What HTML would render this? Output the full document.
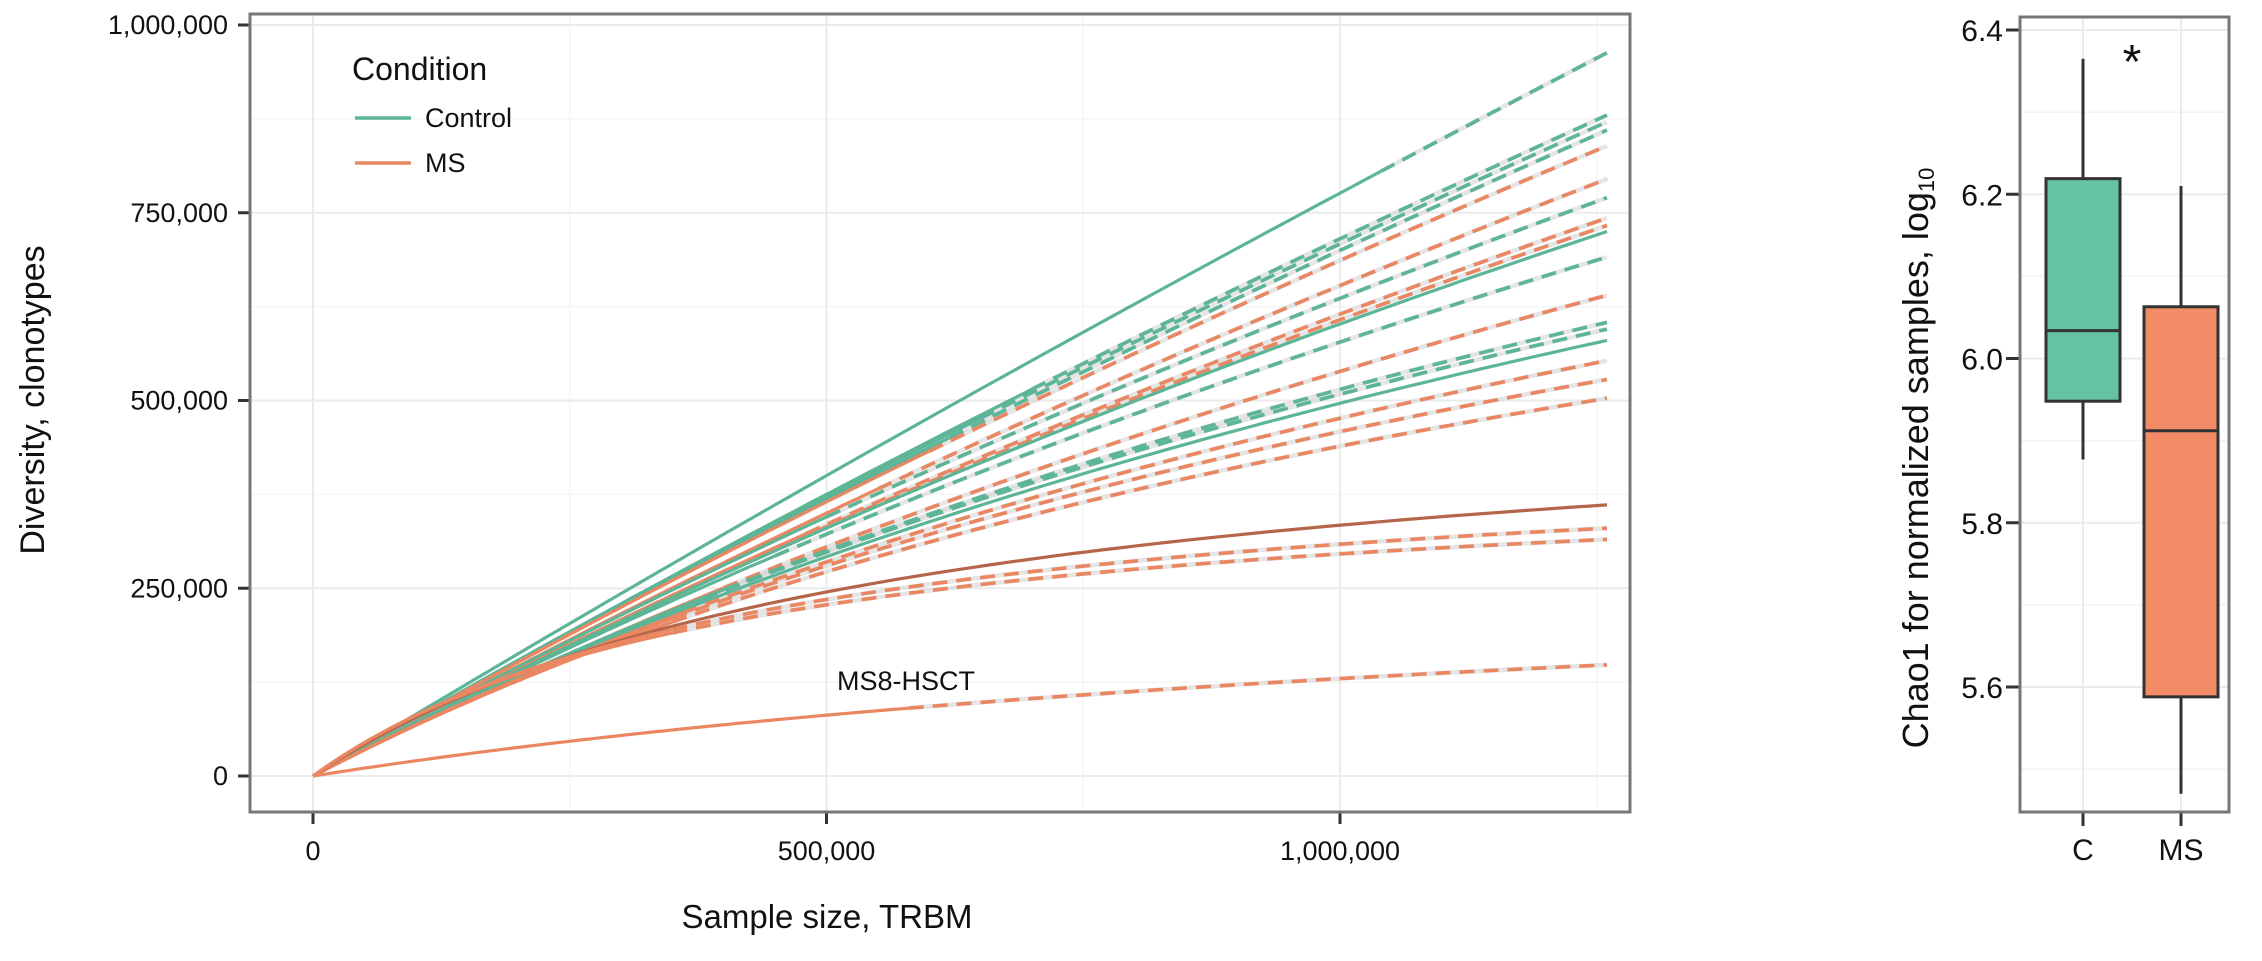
<!DOCTYPE html>
<html><head><meta charset="utf-8"><style>
html,body{margin:0;padding:0;background:#fff;}
svg{display:block;font-family:"Liberation Sans",sans-serif;}
</style></head><body>
<svg id="chart" width="2262" height="961" viewBox="0 0 2262 961" xmlns="http://www.w3.org/2000/svg">
<g id="left"></g>
<g id="right"></g>
</svg>
<script>
// ---- Rarefaction data ----
const xMax = 1260000;
const seriesGroup = ["C","C","C","C","MS","MS","C","MS","MS","C","C","MS","C","C","C","MS","MS","MS","MSd","MS","MS","MS"];
const endValues = [963000,880000,871000,860000,839000,795000,770000,743000,733000,725000,691000,640000,604000,595000,580000,553000,528000,503000,361000,330000,315000,148000];
const midValues = [400000,375000,372000,368000,365000,350000,345000,335000,332000,330000,322000,305000,300000,298000,292000,285000,280000,272000,245000,235000,228000,81000];
const sampleSizes = [1040000,700000,650000,620000,600000,550000,500000,480000,450000,1260000,450000,400000,400000,380000,1260000,360000,350000,350000,1260000,350000,350000,580000];
const xTicks = [0,500000,1000000];
const xTickLabels = ["0","500,000","1,000,000"];
const yTicks = [0,250000,500000,750000,1000000];
const yTickLabels = ["0","250,000","500,000","750,000","1,000,000"];

// ---- Boxplot data ----
const boxCats = ["C","MS"];
const boxWhiskerLow = [5.877,5.47];
const boxQ1 = [5.948,5.588];
const boxMedian = [6.034,5.912];
const boxQ3 = [6.219,6.063];
const boxWhiskerHigh = [6.365,6.21];
const boxTicks = [5.6,5.8,6.0,6.2,6.4];
const boxTickLabels = ["5.6","5.8","6.0","6.2","6.4"];

const NS="http://www.w3.org/2000/svg";
function mk(parent,tag,attrs,text){const e=document.createElementNS(NS,tag);for(const k in attrs)e.setAttribute(k,attrs[k]);if(text!==undefined)e.textContent=text;parent.appendChild(e);return e;}

// Left panel
const L=document.getElementById('left');
const PX0=250,PX1=1630,PY0=14,PY1=812;
const sx=v=>313+v*(1340-313)/1000000;
const sy=v=>776-v*(776-25)/1000000;
let bg=mk(L,'rect',{x:PX0,y:PY0,width:PX1-PX0,height:PY1-PY0,fill:'#fff'});


[250000,750000,1250000].forEach(v=>{let g=mk(L,'line',{x1:sx(v),x2:sx(v),y1:PY0,y2:PY1,stroke:'#f5f5f5','stroke-width':1.5});});
[125000,375000,625000,875000].forEach(v=>{let g=mk(L,'line',{x1:PX0,x2:PX1,y1:sy(v),y2:sy(v),stroke:'#f5f5f5','stroke-width':1.5});});
xTicks.forEach((v,i)=>{
  let g=mk(L,'line',{x1:sx(v),x2:sx(v),y1:PY0,y2:PY1,stroke:'#ebebeb','stroke-width':2});
  
  let t=mk(L,'line',{x1:sx(v),x2:sx(v),y1:PY1,y2:PY1+12,stroke:'#333','stroke-width':3});
  
  let l=mk(L,'text',{x:sx(v),y:PY1+48,'text-anchor':'middle','font-size':27,fill:'#111'},xTickLabels[i]);
  
});
yTicks.forEach((v,i)=>{
  let g=mk(L,'line',{x1:PX0,x2:PX1,y1:sy(v),y2:sy(v),stroke:'#ebebeb','stroke-width':2});
  
  let t=mk(L,'line',{x1:PX0-12,x2:PX0,y1:sy(v),y2:sy(v),stroke:'#333','stroke-width':3});
  
  let l=mk(L,'text',{x:PX0-22,y:sy(v)+9,'text-anchor':'end','font-size':27,fill:'#111'},yTickLabels[i]);
  
});
const colors={C:'#5db597',MS:'#ea8762',MSd:'#b5654a'};
function curve(i){
  const E=endValues[i],M=midValues[i];
  const p=(1/M-1/E)/(1/500000-1/xMax);
  const q=1/E-p/xMax;
  return x=> x<=0?0:(q<=0?E*x/xMax:1/(p/x+q));
}
function pathStr(f,a,b){let s='';const n=80;for(let k=0;k<=n;k++){const x=a+(b-a)*k/n;s+=(k?'L':'M')+sx(x).toFixed(1)+','+sy(f(x)).toFixed(1);}return s;}
endValues.forEach((e,i)=>{
  const f=curve(i);
  if(sampleSizes[i]<xMax){
    let b=mk(L,'path',{d:pathStr(f,sampleSizes[i],xMax),fill:'none',stroke:'#d4d4d4','stroke-width':4.5,'stroke-opacity':0.6});
    
  }
});
endValues.forEach((e,i)=>{
  const f=curve(i);const c=colors[seriesGroup[i]];
  let s=mk(L,'path',{d:pathStr(f,0,Math.min(sampleSizes[i],xMax)),fill:'none',stroke:c,'stroke-width':3.2});
  
  if(sampleSizes[i]<xMax){
    let d=mk(L,'path',{d:pathStr(f,sampleSizes[i],xMax),fill:'none',stroke:c,'stroke-width':3.6,'stroke-dasharray':'15 9'});
    
  }
});
let ann=mk(L,'text',{x:837,y:690,'font-size':27,fill:'#111'},'MS8-HSCT');

let fr=mk(L,'rect',{x:PX0,y:PY0,width:PX1-PX0,height:PY1-PY0,fill:'none',stroke:'#777','stroke-width':3});

let lt=mk(L,'text',{x:352,y:80,'font-size':32,fill:'#111'},'Condition');

[['Control',colors.C,118],['MS',colors.MS,163]].forEach(([n,c,y])=>{
  let g=mk(L,'g',{});
  mk(g,'line',{x1:355,x2:411,y1:y,y2:y,stroke:c,'stroke-width':3.5});
  mk(g,'text',{x:425,y:y+9,'font-size':27,fill:'#111'},n);
});
let xt=mk(L,'text',{x:827,y:928,'text-anchor':'middle','font-size':33,fill:'#111'},'Sample size, TRBM');

let yt=mk(L,'text',{x:0,y:0,'text-anchor':'middle','font-size':34,fill:'#111',transform:'translate(44,400) rotate(-90)'},'Diversity, clonotypes');


// Right panel
const R=document.getElementById('right');
const RX0=2020,RX1=2229,RY0=17,RY1=812;
const by=v=>687-(v-5.6)*(687-30)/0.8;
const bx=[2083,2181];
let rb=mk(R,'rect',{x:RX0,y:RY0,width:RX1-RX0,height:RY1-RY0,fill:'#fff'});

[5.5,5.7,5.9,6.1,6.3].forEach(v=>{let g=mk(R,'line',{x1:RX0,x2:RX1,y1:by(v),y2:by(v),stroke:'#f3f3f3','stroke-width':1.5});});
boxTicks.forEach((v,i)=>{
  let g=mk(R,'line',{x1:RX0,x2:RX1,y1:by(v),y2:by(v),stroke:'#ebebeb','stroke-width':2});
  
  let t=mk(R,'line',{x1:RX0-14,x2:RX0,y1:by(v),y2:by(v),stroke:'#333','stroke-width':3});
  
  let l=mk(R,'text',{x:2003,y:by(v)+11,'text-anchor':'end','font-size':30,fill:'#111'},boxTickLabels[i]);
  
});
const boxFill=['#66c2a5','#f28b66'];
boxCats.forEach((c,i)=>{
  const x=bx[i];
  let g0=mk(R,'line',{x1:x,x2:x,y1:RY0,y2:RY1,stroke:'#ebebeb','stroke-width':2});
  
  let g=mk(R,'g',{});
  mk(g,'line',{x1:x,x2:x,y1:by(boxWhiskerHigh[i]),y2:by(boxWhiskerLow[i]),stroke:'#333','stroke-width':3});
  mk(g,'rect',{x:x-37,y:by(boxQ3[i]),width:74,height:by(boxQ1[i])-by(boxQ3[i]),fill:boxFill[i],stroke:'#333','stroke-width':3});
  mk(g,'line',{x1:x-37,x2:x+37,y1:by(boxMedian[i]),y2:by(boxMedian[i]),stroke:'#333','stroke-width':3});
  let t=mk(R,'line',{x1:x,x2:x,y1:RY1,y2:RY1+14,stroke:'#333','stroke-width':3});
  
  let l=mk(R,'text',{x:x,y:RY1+48,'text-anchor':'middle','font-size':30,fill:'#111'},c);
  
});
let rf=mk(R,'rect',{x:RX0,y:RY0,width:RX1-RX0,height:RY1-RY0,fill:'none',stroke:'#777','stroke-width':3});

let st=mk(R,'text',{x:2132,y:78,'text-anchor':'middle','font-size':48,fill:'#111'},'*');

let ry=mk(R,'text',{x:0,y:0,'text-anchor':'middle','font-size':36,fill:'#111',transform:'translate(1928,458) rotate(-90)'});

mk(ry,'tspan',{},'Chao1 for normalized samples, log');
mk(ry,'tspan',{'font-size':22,dy:6},'10');
</script>
</body></html>
